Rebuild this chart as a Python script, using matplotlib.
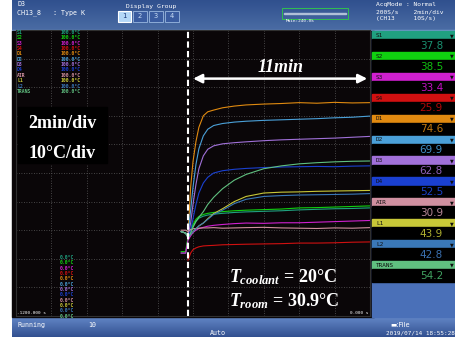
import matplotlib
matplotlib.use('Agg')
import matplotlib.pyplot as plt
from matplotlib.patches import Rectangle
from matplotlib.colors import LinearSegmentedColormap
import numpy as np

plt.rcParams['mathtext.fontset'] = 'custom'
plt.rcParams['mathtext.it'] = 'Liberation Serif:italic:bold'
plt.rcParams['mathtext.rm'] = 'Liberation Serif:bold'

# data, time in s relative to end of record, values in degC
t_s = [-640, -625, -617, -608, -600, -590, -580, -565, -550, -530,
       -500, -460, -420, -360, -300, -240, -180, -120, -60, 0]

channels = ['S1', 'S2', 'S3', 'S4', 'D1', 'D2', 'D3', 'D4', 'AIR', 'L1', 'L2', 'TRANS']
readings = ['37.8', '38.5', '33.4', '25.9', '74.6', '69.9', '62.8', '52.5', '30.9', '43.9', '42.8', '54.2']

s1 = [22, 22, 27, 29.5, 31.5, 33.2, 34.2, 34.9, 35.3, 35.6, 35.9, 36.2, 36.4, 36.6, 36.8, 37.1, 37.3, 37.5, 37.6, 37.8]
s2 = [22.5, 22.5, 27.5, 30, 32, 33.8, 34.8, 35.5, 35.9, 36.2, 36.5, 36.8, 37.0, 37.2, 37.4, 37.8, 37.9, 38.1, 38.3, 38.5]
s3 = [22, 22, 26.5, 28, 29.2, 30, 30.6, 31, 31.4, 31.7, 32, 32.3, 32.5, 32.4, 32.6, 32.6, 32.8, 33.0, 33.2, 33.4]
s4 = [np.nan, np.nan, 19.5, 22, 23.2, 23.8, 24.2, 24.5, 24.6, 24.7, 24.9, 25.0, 25.1, 25.2, 25.3, 25.5, 25.5, 25.6, 25.8, 25.9]
d1 = [29.5, 29, 28, 45, 54, 61, 66, 70, 71.4, 72, 72.8, 73.4, 73.8, 74.1, 74.3, 74.6, 74.4, 74.7, 74.5, 74.6]
d2 = [29.5, 29, 28, 37, 45, 53, 58.5, 63, 65.3, 66.6, 67.3, 67.8, 68.1, 68.4, 68.6, 68.8, 69.0, 69.3, 69.5, 69.9]
d3 = [29.5, 29, 28, 32.5, 39, 46, 51.5, 56, 58.3, 59.5, 60.2, 60.6, 60.9, 61.3, 61.6, 61.8, 62.0, 62.2, 62.5, 62.8]
d4 = [29.5, 29, 27.5, 30, 34, 39, 43, 46.5, 48.5, 50, 50.8, 51.3, 51.6, 51.9, 52.1, 52.2, 52.3, 52.2, 52.4, 52.5]
air = [30, 30, 29.5, 30.2, 30.5, 30.6, 30.7, 30.8, 30.8, 30.9, 30.7, 30.8, 30.9, 31.0, 30.8, 30.7, 30.6, 30.8, 30.7, 30.9]
l1 = [29.5, 29, 27.5, 28.5, 29.5, 30.5, 31.5, 32.5, 34, 35.8, 37.5, 40, 41.8, 43, 43.3, 43.4, 43.6, 43.7, 43.8, 43.9]
l2 = [29.5, 29, 27.5, 28.5, 29.5, 30.5, 31.5, 32.5, 33.8, 35.5, 37, 39.3, 40.8, 41.8, 42.1, 42.3, 42.4, 42.5, 42.6, 42.8]
trans = [29.5, 29, 27.5, 29, 31, 33, 34.5, 36.5, 39, 41.5, 44.5, 47.5, 49.5, 51.5, 52.5, 53.2, 53.6, 53.9, 54.1, 54.2]
series = [s1, s2, s3, s4, d1, d2, d3, d4, air, l1, l2, trans]

trig_s = -617

line_cols = ['#20a080', '#10d010', '#d020d0', '#d01010', '#e08a10', '#4aa0d8',
             '#a070d8', '#1a40d0', '#d090a0', '#c8c838', '#3a78b8', '#60c080']
val_cols = ['#1a9070', '#10c010', '#c010c0', '#b00808', '#c07810', '#4090c8',
            '#9060b8', '#1a40c8', '#b88898', '#b0b030', '#3a70b0', '#40a060']

W, H = 455, 341
fig = plt.figure(figsize=(4.55, 3.41), dpi=100)
fig.patch.set_facecolor('white')


def fx(x):
    return x / W


def fy(y):
    return 1 - y / H


def box(x0, y0, x1, y1, z=1, **kw):
    fig.patches.append(Rectangle((fx(x0), fy(y1)), (x1 - x0) / W, (y1 - y0) / H,
                                 transform=fig.transFigure, zorder=z, **kw))


def txt(x, y, s, size=4.8, color='white', **kw):
    kw.setdefault('family', 'DejaVu Sans Mono')
    kw.setdefault('va', 'center')
    fig.text(fx(x), fy(y), s, fontsize=size, color=color, **kw)


def gradient(x0, y0, x1, y1, c_top, c_bot):
    a = fig.add_axes([fx(x0), fy(y1), (x1 - x0) / W, (y1 - y0) / H], zorder=-2)
    cm = LinearSegmentedColormap.from_list('g', [c_top, c_bot])
    a.imshow(np.linspace(0, 1, 50).reshape(-1, 1), aspect='auto', cmap=cm)
    a.axis('off')


# screen frame
gradient(12, 0, 455, 30, '#30508e', '#4a6ca4')
box(12, 29.5, 455, 31, z=-1, color='#7c9cd0')
gradient(12, 317, 455, 337, '#6286c6', '#325090')
box(12, 31, 374, 317, z=-1, color='#0a0608')
box(372, 31, 455, 317, z=-1, color='#4a70b8')

# header texts
txt(17, 4.5, 'D3')
txt(17, 12.5, 'CH13_8   : Type K')
txt(126, 6.5, 'Display Group', size=4.6)
for i, (bx0, bx1) in enumerate([(118, 131), (133, 147), (149, 163), (165, 179)]):
    if i == 0:
        box(bx0, 11, bx1, 22, facecolor='#b4d8f8', edgecolor='white', lw=0.8)
        txt((bx0 + bx1) / 2, 16.5, str(i + 1), color='#1a3a7a', ha='center', size=5)
    else:
        box(bx0, 11, bx1, 22, facecolor='#3a5ca0', edgecolor='#9ab8e0', lw=0.6)
        txt((bx0 + bx1) / 2, 16.5, str(i + 1), color='#c8dcf4', ha='center', size=5)
box(282, 8, 348, 19, facecolor='none', edgecolor='#30c050', lw=0.7)
box(284, 12.5, 346, 13.5, color='#b0c0d8')
txt(300, 21.5, 'Main:240.0k', size=3.2, ha='center')
txt(376, 4.5, 'AcqMode : Normal', size=4.5)
txt(376, 11.5, '200S/s    2min/div', size=4.5)
txt(376, 18.5, '(CH13     10S/s)', size=4.5)

# bottom bar texts
txt(17, 325, 'Running')
txt(88, 325, '10')
txt(210, 333, 'Auto')
txt(390, 325, '\u25ac:File', family='DejaVu Sans')
txt(386, 333, '2019/07/14 18:55:28', size=4.3)

# right panel channel entries
for i, name in enumerate(channels):
    top = 31 + i * 20.9
    box(372, top, 455, top + 8.3, color=line_cols[i])
    txt(376, top + 4.4, name, size=4.3, color='#101010')
    txt(454, top + 4.4, '\u25bc', size=3.5, color='#101010', ha='right', family='DejaVu Sans')
    box(372, top + 8.3, 455, top + 20.9, color='black')
    txt(443, top + 14.8, readings[i], size=7.5, color=val_cols[i], ha='right',
        family='DejaVu Sans')

# main plot area
ax = fig.add_axes([fx(16), fy(316), (370 - 16) / W, (316 - 30) / H])
ax.set_facecolor('#0a0608')
for t_col, vals in zip(line_cols, series):
    ax.plot(t_s, vals, color=t_col, lw=0.8)
ax.set_xlim(-1200, 0)
ax.set_ylim(0, 100)
ax.set_xticks(np.arange(-1200, 1, 120))
ax.set_yticks(np.arange(0, 101, 10))
ax.grid(color='#5a5a5a', ls=(0, (1, 2)), lw=0.6)
ax.tick_params(length=0, labelbottom=False, labelleft=False)
for sp in ax.spines.values():
    sp.set_color('#303030')

ax.axvline(trig_s, color='white', lw=1.5, ls=(0, (3, 1.6)), zorder=5)
ax.annotate('', xy=(0, 83), xytext=(trig_s + 8, 83),
            arrowprops=dict(arrowstyle='<|-|>', color='white', lw=1.8, mutation_scale=13),
            annotation_clip=False)
ax.text(-302, 87, '11min', family='Liberation Serif', style='italic', weight='bold',
        fontsize=13, color='white', ha='center', va='center')

# scale labels on the left
for i, name in enumerate(channels):
    yy = 32.5 + i * 5.35
    txt(17, yy, name, size=3.4, color=line_cols[i], weight='bold')
    txt(61, yy, '100.0\u00b0C', size=3.4, color=line_cols[i], weight='bold')
    txt(60, 257.3 + i * 5.35, '0.0\u00b0C', size=3.4, color=line_cols[i], weight='bold')
txt(17, 313.5, '-1200.000 s', size=3.2)
txt(368, 313.5, '0.000 s', size=3.2, ha='right')

# annotations
box(18, 107, 107, 163, color='black')
txt(62, 123, '2min/div', size=13, family='Liberation Serif', weight='bold', ha='center')
txt(62, 153, '10\u00b0C/div', size=13, family='Liberation Serif', weight='bold', ha='center')
txt(229, 282, r'$T_{coolant}$ = 20°C', size=13, family='Liberation Serif',
    weight='bold', va='baseline')
txt(229, 306, r'$T_{room}$ = 30.9°C', size=13, family='Liberation Serif',
    weight='bold', va='baseline')

fig.savefig('out.png', dpi=100)
